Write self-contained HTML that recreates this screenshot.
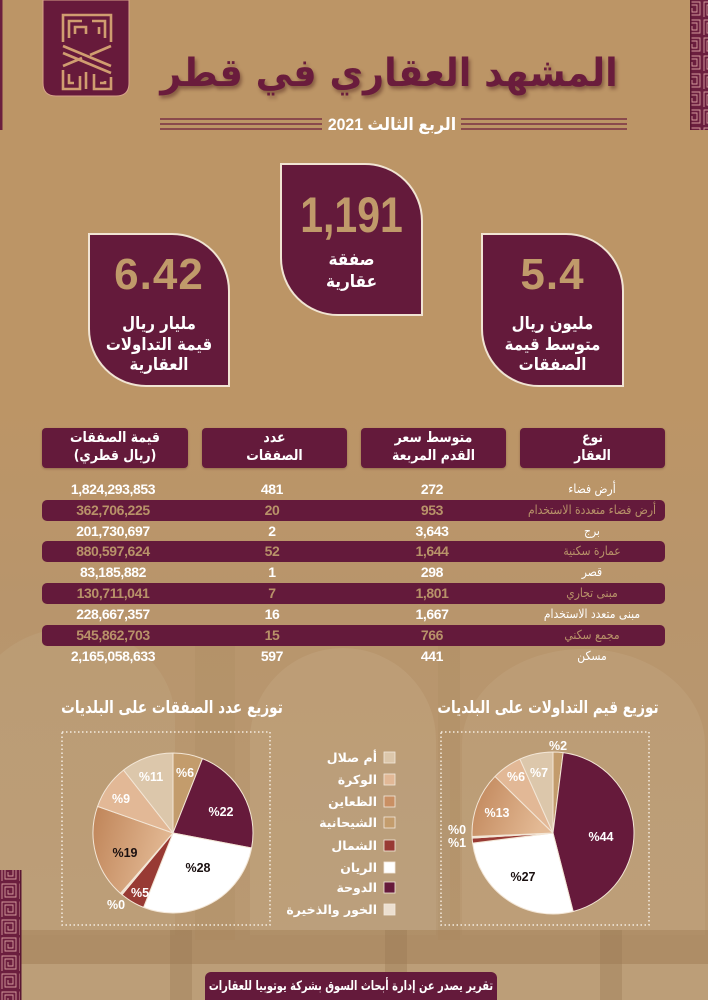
<!DOCTYPE html>
<html><head><meta charset="utf-8">
<style>
*{margin:0;padding:0;box-sizing:border-box}
html,body{width:708px;height:1000px;overflow:hidden;background:#bc9566}
body{position:relative;font-family:"Liberation Sans","DejaVu Sans",sans-serif}
.t{position:absolute;white-space:nowrap;text-align:center;font-weight:bold}
.ar{font-family:"DejaVu Sans","Liberation Sans",sans-serif}
.card{position:absolute;background:#641a3b;border:2px solid #f1e4d3;border-radius:0 58px 0 58px}
.hb{position:absolute;top:428px;height:40px;background:#641a3b;border-radius:4px;box-shadow:0 1px 2px rgba(60,20,20,.3)}
.bar{position:absolute;left:42px;width:623px;height:21px;background:#641a3b;border-radius:5px}
.c{position:absolute;width:180px;text-align:center;white-space:nowrap;font-weight:bold;font-size:14px;line-height:20px;color:#fff;letter-spacing:-0.4px}
.lab{font-family:"DejaVu Sans",sans-serif;font-weight:normal;font-size:12.5px;letter-spacing:0;transform:scaleX(0.86)}
.hl{color:#b89269}
.leg{position:absolute;right:331px;font-size:12.5px;line-height:16px;color:#fff;font-weight:bold;white-space:nowrap;direction:rtl;font-family:"DejaVu Sans",sans-serif}
</style></head><body>
<svg width="708" height="1000" style="position:absolute;left:0;top:0">
<defs>
<linearGradient id="lowbg" x1="0" y1="0" x2="0" y2="1">
<stop offset="0" stop-color="#bc9566"/><stop offset="0.35" stop-color="#b8956c"/><stop offset="1" stop-color="#b99a74"/>
</linearGradient>
<linearGradient id="grad19" x1="0" y1="0" x2="1" y2="0.3">
<stop offset="0" stop-color="#bf8458"/><stop offset="1" stop-color="#e3b994"/>
</linearGradient>
<pattern id="mz" width="18" height="18" patternUnits="userSpaceOnUse">
<rect width="18" height="18" fill="#6b1e3e"/>
<path d="M2 17 V2 H16 V15 H5 V5 H13 V12 H8 V8" fill="none" stroke="#d49a9c" stroke-width="0.9"/>
</pattern>
</defs>
<rect x="0" y="0" width="708" height="1000" fill="#bc9566"/>
<rect x="0" y="400" width="708" height="600" fill="url(#lowbg)"/>
<path d="M-30 935 V720 A100 90 0 0 1 175 720 V935 Z" fill="#c6ab88" opacity="0.28"/>
<path d="M250 935 V740 A93 92 0 0 1 436 740 V935 Z" fill="#c6ab88" opacity="0.35"/>
<path d="M462 935 V745 A120 95 0 0 1 705 745 V935 Z" fill="#c6ab88" opacity="0.3"/>
<rect x="195" y="640" width="40" height="300" fill="#a9855b" opacity="0.18"/>
<rect x="438" y="640" width="22" height="300" fill="#a9855b" opacity="0.18"/>
<rect x="300" y="760" width="150" height="170" fill="#b3a08a" opacity="0.18"/>
<rect x="0" y="930" width="708" height="34" fill="#a6835b" opacity="0.55"/>
<rect x="0" y="964" width="708" height="36" fill="#c2a47f" opacity="0.45"/>
<rect x="170" y="930" width="22" height="70" fill="#9c7a54" opacity="0.4"/>
<rect x="385" y="930" width="22" height="70" fill="#9c7a54" opacity="0.4"/>
<rect x="600" y="930" width="22" height="70" fill="#9c7a54" opacity="0.4"/>

<rect x="0" y="0" width="2.5" height="130" fill="#6b1e3e"/>
<rect x="690" y="0" width="18" height="130" fill="url(#mz)"/>
<rect x="690" y="0" width="1.5" height="130" fill="#5a1632"/>
<rect x="0" y="870" width="21" height="130" fill="url(#mz)"/>
<rect x="20" y="870" width="1.5" height="130" fill="#5a1632"/>

<path d="M43 0 H129 V83 Q129 96 116 96 H56 Q43 96 43 83 Z" fill="#671a3b" stroke="#d7a38a" stroke-width="1"/>
<g fill="none" stroke="#d09d70" stroke-width="2.6">
<path d="M63 42 V15 H111 V42"/>
<path d="M69 38 V21 H82"/>
<path d="M105 38 V21 H92"/>
<path d="M75 34 V27 H86 V34"/>
<path d="M99 34 V27"/>
<path d="M63 46 L111 66"/>
<path d="M63 53 L111 73"/>
<path d="M111 46 L90 55"/>
<path d="M63 66 L82 58"/>
<path d="M63 70 V89 H80 V76"/>
<path d="M69 74 V83 H74"/>
<path d="M111 77 V89 H94 V74"/>
<path d="M105 81 V83 H100"/>
<path d="M86 89 V72"/>
</g>

<g stroke="#6b1e3e" stroke-width="1.3">
<line x1="160" y1="119" x2="322" y2="119"/><line x1="160" y1="124" x2="322" y2="124"/><line x1="160" y1="129" x2="322" y2="129"/>
<line x1="461" y1="119" x2="627" y2="119"/><line x1="461" y1="124" x2="627" y2="124"/><line x1="461" y1="129" x2="627" y2="129"/>
</g>

<rect x="62" y="732" width="208" height="193" fill="none" stroke="#f4ece0" stroke-width="1.5" stroke-dasharray="1.5 2.5"/>
<rect x="441" y="732" width="208" height="193" fill="none" stroke="#f4ece0" stroke-width="1.5" stroke-dasharray="1.5 2.5"/>

<g stroke="#f3e6d6" stroke-width="1" stroke-linejoin="round">
<path d="M173 833 L173 753 A80 80 0 0 1 202.45 758.62 Z" fill="#c39c6c"/>
<path d="M173 833 L202.45 758.62 A80 80 0 0 1 251.58 847.99 Z" fill="#661a3b"/>
<path d="M173 833 L251.58 847.99 A80 80 0 0 1 143.55 907.38 Z" fill="#ffffff"/>
<path d="M173 833 L143.55 907.38 A80 80 0 0 1 122.01 894.64 Z" fill="#983a34"/>
<path d="M173 833 L122.01 894.64 A80 80 0 0 1 120.47 893.34 Z" fill="#efe2d2"/>
<path d="M173 833 L120.47 893.34 A80 80 0 0 1 97.56 806.38 Z" fill="url(#grad19)"/>
<path d="M173 833 L97.56 806.38 A80 80 0 0 1 123.56 770.10 Z" fill="#e2b896"/>
<path d="M173 833 L123.56 770.10 A80 80 0 0 1 173 753 Z" fill="#dcc7ab"/>
</g>
<g stroke="#f3e6d6" stroke-width="1" stroke-linejoin="round">
<path d="M553 833 L553 752 A81 81 0 0 1 563.15 752.64 Z" fill="#c39c6c"/>
<path d="M553 833 L563.15 752.64 A81 81 0 0 1 573.14 911.46 Z" fill="#661a3b"/>
<path d="M553 833 L573.14 911.46 A81 81 0 0 1 472.64 843.15 Z" fill="#ffffff"/>
<path d="M553 833 L472.64 843.15 A81 81 0 0 1 472.16 838.09 Z" fill="#983a34"/>
<path d="M553 833 L472.16 838.09 A81 81 0 0 1 472.08 836.56 Z" fill="#efe2d2"/>
<path d="M553 833 L472.08 836.56 A81 81 0 0 1 495.01 776.45 Z" fill="url(#grad19)"/>
<path d="M553 833 L495.01 776.45 A81 81 0 0 1 519.90 759.07 Z" fill="#e2b896"/>
<path d="M553 833 L519.90 759.07 A81 81 0 0 1 553 752 Z" fill="#dcc7ab"/>
</g>
<g font-family="Liberation Sans, sans-serif" font-weight="bold" font-size="12.5" text-anchor="middle" dominant-baseline="central">
<text x="185" y="773" fill="#fff">%6</text>
<text x="221" y="812" fill="#fff">%22</text>
<text x="198" y="868" fill="#1a1010">%28</text>
<text x="140" y="893" fill="#fff">%5</text>
<text x="116" y="905" fill="#fff">%0</text>
<text x="125" y="853" fill="#1a1010">%19</text>
<text x="121" y="799" fill="#fff">%9</text>
<text x="151" y="777" fill="#fff">%11</text>
<text x="558" y="746" fill="#fff">%2</text>
<text x="601" y="837" fill="#fff">%44</text>
<text x="523" y="877" fill="#1a1010">%27</text>
<text x="457" y="830" fill="#fff">%0</text>
<text x="457" y="843" fill="#fff">%1</text>
<text x="497" y="813" fill="#fff">%13</text>
<text x="516" y="777" fill="#fff">%6</text>
<text x="539" y="773" fill="#fff">%7</text>
</g>
<g stroke="#f3e9dc" stroke-width="0.8">
<rect x="384" y="752" width="11" height="11" fill="#dcc7ab"/>
<rect x="384" y="774" width="11" height="11" fill="#e2b896"/>
<rect x="384" y="796" width="11" height="11" fill="#c98f63"/>
<rect x="384" y="817" width="11" height="11" fill="#c39c6c"/>
<rect x="384" y="840" width="11" height="11" fill="#983a34"/>
<rect x="384" y="862" width="11" height="11" fill="#ffffff"/>
<rect x="384" y="882" width="11" height="11" fill="#661a3b"/>
<rect x="384" y="904" width="11" height="11" fill="#ecdfd0"/>
</g>
</svg>

<div class="t ar" dir="rtl" style="left:139px;width:500px;top:49px;font-size:39px;line-height:50px;color:#6a1c3c;text-shadow:2px 3px 4px rgba(70,25,25,.45);transform:scaleX(0.94)">المشهد العقاري في قطر</div>
<div class="t" dir="rtl" style="left:322px;width:140px;top:114px;font-size:17px;line-height:22px;color:#fff;transform:scaleX(0.93)">الربع الثالث 2021</div>

<div class="card" style="left:88px;top:233px;width:142px;height:154px"></div>
<div class="card" style="left:280px;top:163px;width:143px;height:153px"></div>
<div class="card" style="left:481px;top:233px;width:143px;height:154px"></div>

<div class="t" style="left:88px;width:142px;top:248px;font-size:44px;line-height:54px;color:#c09a6a;letter-spacing:1px">6.42</div>
<div class="t ar" dir="rtl" style="left:88px;width:142px;top:314px;font-size:17px;line-height:20.5px;color:#fff;transform:scaleX(0.88)">مليار ريال<br>قيمة التداولات<br>العقارية</div>

<div class="t" style="left:280px;width:143px;top:185px;font-size:50px;line-height:60px;color:#c09a6a;transform:scaleX(0.82)">1,191</div>
<div class="t ar" dir="rtl" style="left:280px;width:143px;top:249px;font-size:17px;line-height:22px;color:#fff;transform:scaleX(0.9)">صفقة<br>عقارية</div>

<div class="t" style="left:481px;width:143px;top:248px;font-size:44px;line-height:54px;color:#c09a6a;letter-spacing:1px">5.4</div>
<div class="t ar" dir="rtl" style="left:481px;width:143px;top:314px;font-size:17px;line-height:20.5px;color:#fff;transform:scaleX(0.88)">مليون ريال<br>متوسط قيمة<br>الصفقات</div>

<div class="hb" style="left:42px;width:146px"></div>
<div class="hb" style="left:202px;width:145px"></div>
<div class="hb" style="left:361px;width:145px"></div>
<div class="hb" style="left:520px;width:145px"></div>
<div class="t ar" dir="rtl" style="left:42px;width:146px;top:429px;font-size:14.5px;line-height:18px;color:#fff;transform:scaleX(0.86)">قيمة الصفقات<br>(ريال قطري)</div>
<div class="t ar" dir="rtl" style="left:202px;width:145px;top:429px;font-size:14.5px;line-height:18px;color:#fff;transform:scaleX(0.86)">عدد<br>الصفقات</div>
<div class="t ar" dir="rtl" style="left:361px;width:145px;top:429px;font-size:14.5px;line-height:18px;color:#fff;transform:scaleX(0.86)">متوسط سعر<br>القدم المربعة</div>
<div class="t ar" dir="rtl" style="left:520px;width:145px;top:429px;font-size:14.5px;line-height:18px;color:#fff;transform:scaleX(0.86)">نوع<br>العقار</div>

<div class="bar" style="top:500px"></div>
<div class="bar" style="top:541px"></div>
<div class="bar" style="top:583px"></div>
<div class="bar" style="top:625px"></div>

<div style="position:absolute;left:0;top:479px">
<div class="c" style="left:23px;top:0">1,824,293,853</div><div class="c" style="left:182px;top:0">481</div><div class="c" style="left:342px;top:0">272</div><div class="c lab" dir="rtl" style="left:502px;top:0">أرض فضاء</div>
</div>
<div style="position:absolute;left:0;top:500px">
<div class="c hl" style="left:23px;top:0">362,706,225</div><div class="c hl" style="left:182px;top:0">20</div><div class="c hl" style="left:342px;top:0">953</div><div class="c lab hl" dir="rtl" style="left:502px;top:0">أرض فضاء متعددة الاستخدام</div>
</div>
<div style="position:absolute;left:0;top:521px">
<div class="c" style="left:23px;top:0">201,730,697</div><div class="c" style="left:182px;top:0">2</div><div class="c" style="left:342px;top:0">3,643</div><div class="c lab" dir="rtl" style="left:502px;top:0">برج</div>
</div>
<div style="position:absolute;left:0;top:541px">
<div class="c hl" style="left:23px;top:0">880,597,624</div><div class="c hl" style="left:182px;top:0">52</div><div class="c hl" style="left:342px;top:0">1,644</div><div class="c lab hl" dir="rtl" style="left:502px;top:0">عمارة سكنية</div>
</div>
<div style="position:absolute;left:0;top:562px">
<div class="c" style="left:23px;top:0">83,185,882</div><div class="c" style="left:182px;top:0">1</div><div class="c" style="left:342px;top:0">298</div><div class="c lab" dir="rtl" style="left:502px;top:0">قصر</div>
</div>
<div style="position:absolute;left:0;top:583px">
<div class="c hl" style="left:23px;top:0">130,711,041</div><div class="c hl" style="left:182px;top:0">7</div><div class="c hl" style="left:342px;top:0">1,801</div><div class="c lab hl" dir="rtl" style="left:502px;top:0">مبنى تجاري</div>
</div>
<div style="position:absolute;left:0;top:604px">
<div class="c" style="left:23px;top:0">228,667,357</div><div class="c" style="left:182px;top:0">16</div><div class="c" style="left:342px;top:0">1,667</div><div class="c lab" dir="rtl" style="left:502px;top:0">مبنى متعدد الاستخدام</div>
</div>
<div style="position:absolute;left:0;top:625px">
<div class="c hl" style="left:23px;top:0">545,862,703</div><div class="c hl" style="left:182px;top:0">15</div><div class="c hl" style="left:342px;top:0">766</div><div class="c lab hl" dir="rtl" style="left:502px;top:0">مجمع سكني</div>
</div>
<div style="position:absolute;left:0;top:646px">
<div class="c" style="left:23px;top:0">2,165,058,633</div><div class="c" style="left:182px;top:0">597</div><div class="c" style="left:342px;top:0">441</div><div class="c lab" dir="rtl" style="left:502px;top:0">مسكن</div>
</div>

<div class="t ar" dir="rtl" style="left:32px;width:280px;top:696px;font-size:17px;line-height:24px;color:#fff;transform:scaleX(0.8)">توزيع عدد الصفقات على البلديات</div>
<div class="t ar" dir="rtl" style="left:408px;width:280px;top:696px;font-size:17px;line-height:24px;color:#fff;transform:scaleX(0.8)">توزيع قيم التداولات على البلديات</div>

<div class="leg" style="top:750px">أم صلال</div>
<div class="leg" style="top:772px">الوكرة</div>
<div class="leg" style="top:794px">الظعاين</div>
<div class="leg" style="top:815px">الشيحانية</div>
<div class="leg" style="top:838px">الشمال</div>
<div class="leg" style="top:860px">الريان</div>
<div class="leg" style="top:880px">الدوحة</div>
<div class="leg" style="top:902px">الخور والذخيرة</div>

<div style="position:absolute;left:205px;top:972px;width:292px;height:28px;background:#641a3b;border-radius:6px 6px 0 0"></div>
<div class="t ar" dir="rtl" style="left:151px;width:400px;top:976px;font-size:13px;line-height:22px;color:#fff;transform:scaleX(0.76)">تقرير يصدر عن إدارة أبحاث السوق بشركة يوتوبيا للعقارات</div>
</body></html>
